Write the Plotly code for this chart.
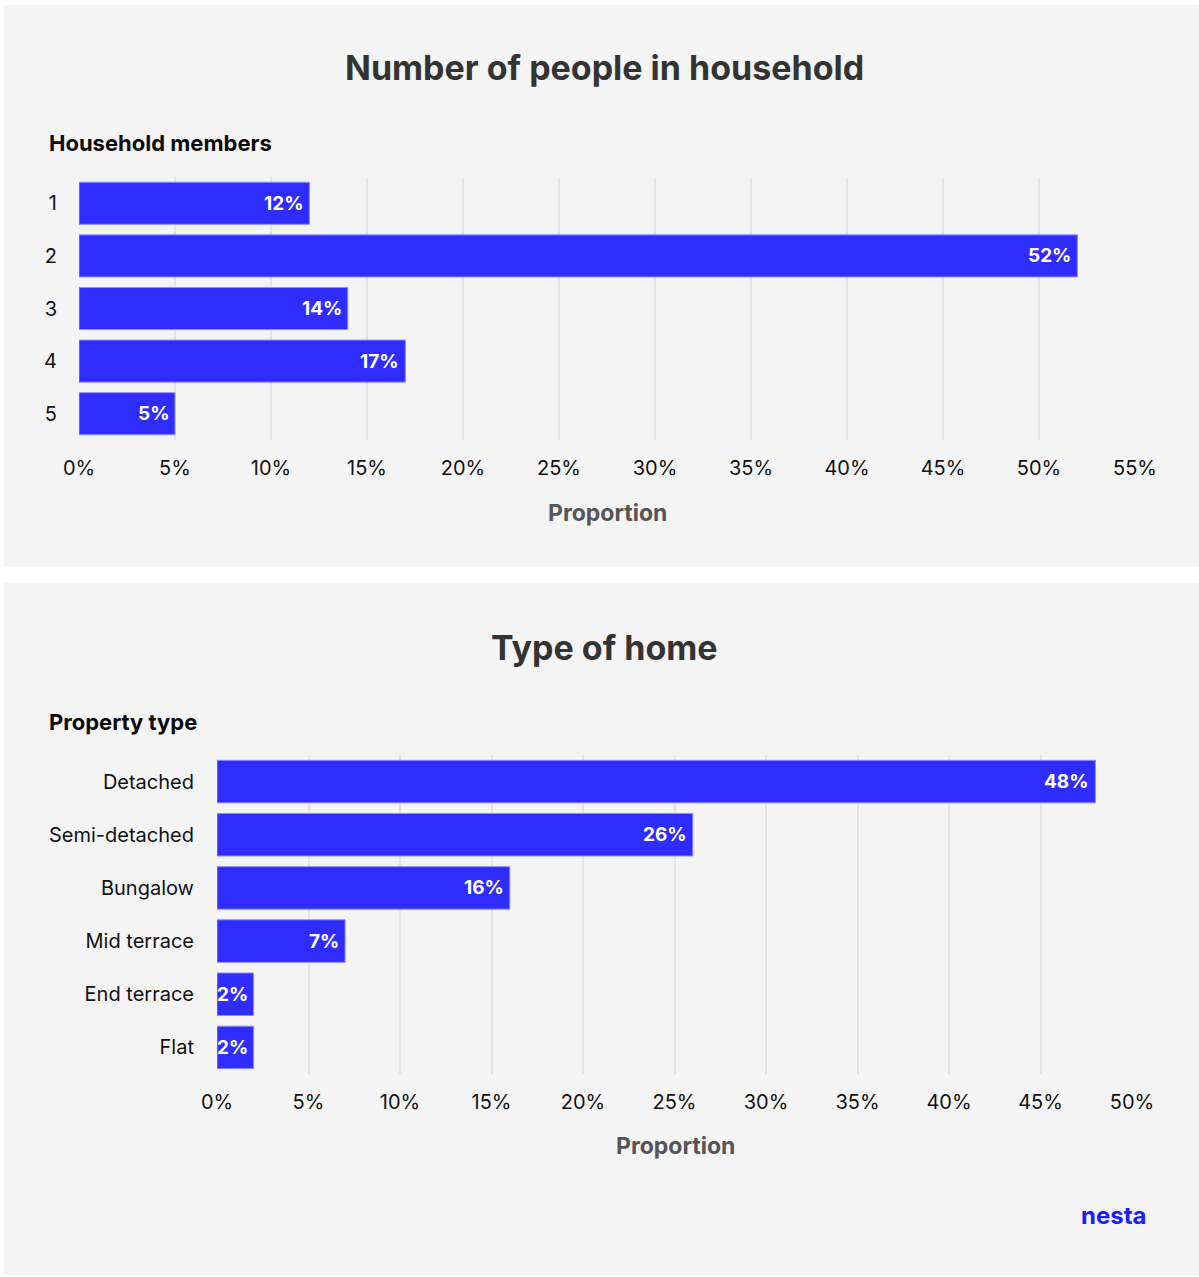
import plotly.graph_objects as go

# Household size data
household_members = ["1", "2", "3", "4", "5"]
household_share = [12, 52, 14, 17, 5]

# Property type data
property_types = ["Detached", "Semi-detached", "Bungalow", "Mid terrace", "End terrace", "Flat"]
property_share = [48, 26, 16, 7, 2, 2]

W, H = 1199, 1277
BLUE = "#2F2CFF"
PANEL = "#F4F4F4"
GRID = "#E4E4E4"
FONT = "Inter"


def px(x):
    return x / W


def py(y):
    return 1 - y / H


fig = go.Figure()

fig.add_trace(go.Bar(
    x=household_share, y=household_members, orientation="h",
    marker=dict(color=BLUE, line=dict(color="#8F8DFF", width=1)),
    xaxis="x", yaxis="y", width=0.8, hoverinfo="skip", showlegend=False,
))
fig.add_trace(go.Bar(
    x=property_share, y=property_types, orientation="h",
    marker=dict(color=BLUE, line=dict(color="#8F8DFF", width=1)),
    xaxis="x2", yaxis="y2", width=0.8, hoverinfo="skip", showlegend=False,
))

tickfont = dict(family=FONT, size=20, color="#111111")
pct_ticks1 = list(range(0, 56, 5))
pct_ticks2 = list(range(0, 51, 5))

common_x = dict(showgrid=True, gridcolor=GRID, gridwidth=2, zeroline=False,
                showline=False, tickfont=tickfont, ticklabelstandoff=14,
                fixedrange=True, automargin=False)
common_y = dict(type="category", autorange="reversed", showgrid=False,
                zeroline=False, showline=False, tickfont=tickfont,
                fixedrange=True, automargin=False)

fig.update_layout(
    width=W, height=H,
    margin=dict(l=0, r=0, t=0, b=0, pad=0, autoexpand=False),
    paper_bgcolor="white", plot_bgcolor="rgba(0,0,0,0)",
    font=dict(family=FONT),
    xaxis=dict(domain=[px(79), px(1135)], range=[0, 55], anchor="y",
               tickvals=pct_ticks1, ticktext=[f"{v}%" for v in pct_ticks1],
               **common_x),
    yaxis=dict(domain=[py(440), py(177)], anchor="x",
               categoryorder="array", categoryarray=household_members,
               ticklabelstandoff=21, **common_y),
    xaxis2=dict(domain=[px(217), px(1132)], range=[0, 50], anchor="y2",
                tickvals=pct_ticks2, ticktext=[f"{v}%" for v in pct_ticks2],
                **common_x),
    yaxis2=dict(domain=[py(1074), py(755)], anchor="x2",
                categoryorder="array", categoryarray=property_types,
                ticklabelstandoff=22, **common_y),
    bargap=0.2,
)

# Grey panel backgrounds
for y0, y1 in [(5, 567), (583, 1275)]:
    fig.add_shape(type="rect", xref="paper", yref="paper",
                  x0=px(4), x1=px(1199), y0=py(y1), y1=py(y0),
                  fillcolor=PANEL, line=dict(width=0), layer="below")

annotations = []

# Value labels inside bar ends (y given as category index)
for i, val in enumerate(household_share):
    annotations.append(dict(x=val, y=i, xref="x", yref="y", text=f"<b>{val}%</b>",
                            xanchor="right", xshift=-4, showarrow=False,
                            font=dict(family=FONT, size=19, color="white")))
for i, val in enumerate(property_share):
    annotations.append(dict(x=val, y=i, xref="x2", yref="y2", text=f"<b>{val}%</b>",
                            xanchor="right", xshift=-4, showarrow=False,
                            font=dict(family=FONT, size=19, color="white")))

# Titles, axis headings and branding
annotations += [
    dict(x=px(604), y=py(68), xref="paper", yref="paper", text="<b>Number of people in household</b>",
         showarrow=False, xanchor="center", yanchor="middle",
         font=dict(family=FONT, size=34, color="#333333")),
    dict(x=px(47), y=py(143), xref="paper", yref="paper", text="<b>Household members</b>",
         showarrow=False, xanchor="left", yanchor="middle",
         font=dict(family=FONT, size=22, color="#0A0A0A")),
    dict(x=px(607), y=py(513), xref="paper", yref="paper", text="<b>Proportion</b>",
         showarrow=False, xanchor="center", yanchor="middle",
         font=dict(family=FONT, size=23, color="#555555")),
    dict(x=px(604), y=py(647), xref="paper", yref="paper", text="<b>Type of home</b>",
         showarrow=False, xanchor="center", yanchor="middle",
         font=dict(family=FONT, size=34, color="#333333")),
    dict(x=px(47), y=py(722), xref="paper", yref="paper", text="<b>Property type</b>",
         showarrow=False, xanchor="left", yanchor="middle",
         font=dict(family=FONT, size=22, color="#0A0A0A")),
    dict(x=px(675), y=py(1146), xref="paper", yref="paper", text="<b>Proportion</b>",
         showarrow=False, xanchor="center", yanchor="middle",
         font=dict(family=FONT, size=23, color="#555555")),
    dict(x=px(1149), y=py(1215), xref="paper", yref="paper", text="<b>nesta</b>",
         showarrow=False, xanchor="right", yanchor="middle",
         font=dict(family=FONT, size=24, color="#1B1BFF")),
]
fig.update_layout(annotations=annotations)

fig.write_html("out.html", config={"displayModeBar": False})
